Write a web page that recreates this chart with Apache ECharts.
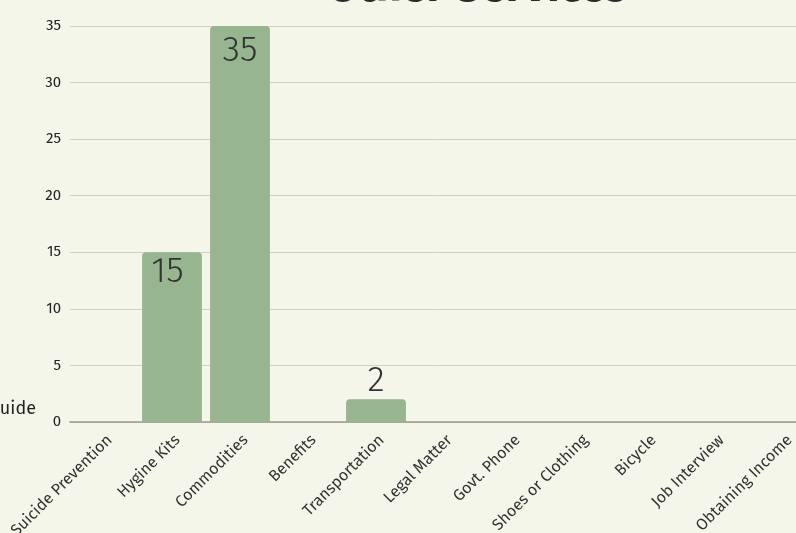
<!DOCTYPE html>
<html><head><meta charset="utf-8">
<script src="https://cdn.jsdelivr.net/npm/echarts@6/dist/echarts.min.js"></script>
<style>html,body{margin:0;padding:0;background:#f5f6ea}#c{width:796px;height:533px}</style>
</head><body><div id="c"></div>
<script>
const categories = ["Suicide Prevention","Hygine Kits","Commodities","Benefits","Transportation","Legal Matter","Govt. Phone","Shoes or Clothing","Bicycle","Job Interview","Obtaining Income"];
const values = [0,15,35,0,2,0,0,0,0,0,0];
const yTicks = [0,5,10,15,20,25,30,35];
const titleText = "Other Services";
const sideText = "uide";

const FONT = "'Fira Sans','Open Sans','Noto Sans',sans-serif";
function labelFor(v){
  if (v <= 0) return {show:false};
  if (v >= 30) return {show:true, position:'insideTop', distance:7};
  if (v >= 5) return {show:true, position:'insideTop', distance:1.5, padding:[0,9,0,0]};
  return {show:true, position:'top', distance:0};
}
const chart = echarts.init(document.getElementById('c'), null, {renderer:'canvas'});
chart.setOption({
  backgroundColor:'#f5f6ea',
  animation:false,
  grid:{left:70, top:26, right:-22, bottom:111, containLabel:false, outerBoundsMode:'none'},
  xAxis:{type:'category', data:categories,
    axisLine:{lineStyle:{color:'#9a9a90', width:1.6}},
    axisTick:{show:false},
    axisLabel:{rotate:45, interval:0, color:'#333', fontSize:16, fontFamily:FONT, margin:10, verticalAlign:'top'}},
  yAxis:{type:'value', min:yTicks[0], max:yTicks[yTicks.length-1], interval:5,
    axisLine:{show:false}, axisTick:{show:false},
    splitLine:{lineStyle:{color:'#cfd0c2', width:1}},
    axisLabel:{color:'#222', fontSize:15, fontFamily:FONT, margin:9}},
  series:[{type:'bar', barCategoryGap:'12%',
    data: values.map(v=>({value:v, label:labelFor(v)})),
    itemStyle:{color:'#97b58f', borderRadius:[4,4,0,0]},
    label:{color:'#333', fontSize:36, fontWeight:300, fontFamily:FONT}
  }],
  graphic:[
    {type:'text', style:{text:titleText, x:477, y:-12, textAlign:'center', textVerticalAlign:'middle', font:"bold 45px "+FONT, fill:'#2a2a2a'}},
    {type:'text', style:{text:sideText, x:36, y:409, textAlign:'right', textVerticalAlign:'middle', font:"18px "+FONT, fill:'#222'}}
  ]
});
</script></body></html>
